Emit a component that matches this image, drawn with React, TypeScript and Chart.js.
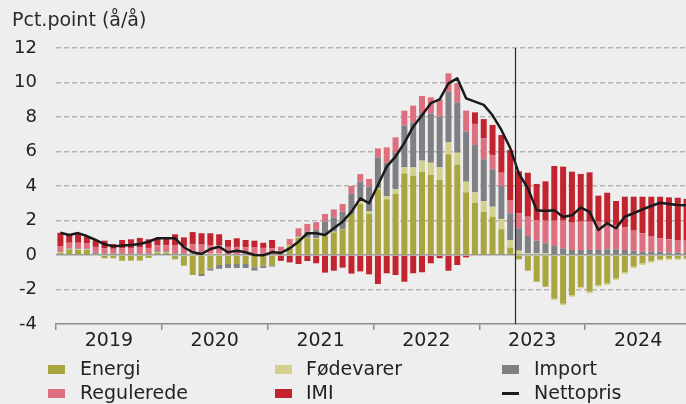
import React, { useEffect, useRef } from 'react';
import { Chart, registerables } from 'chart.js';

Chart.register(...registerables);

// ---------- data ----------
const years = ['2019', '2020', '2021', '2022', '2023', '2024'];
const categories = years.flatMap((y) =>
  ['01', '02', '03', '04', '05', '06', '07', '08', '09', '10', '11', '12'].map((m) => `${y}-${m}`)
);

const energi = [
  0.12, 0.33, 0.29, 0.29, 0.03, -0.19, -0.19, -0.33, -0.33, -0.33, -0.17, 0.13,
  0.13, -0.25, -0.62, -1.16, -1.1, -0.78, -0.58, -0.52, -0.52, -0.52, -0.71, -0.62,
  -0.6, 0.05, 0.53, 1.0, 1.0, 0.93, 1.12, 1.31, 1.49, 2.38, 2.96, 2.38,
  3.81, 3.23, 3.54, 4.73, 4.6, 4.83, 4.64, 4.35, 5.84, 5.24, 3.63, 3.03,
  2.51, 2.22, 1.5, 0.43, -0.25, -0.91, -1.55, -1.84, -2.53, -2.82, -2.34, -1.85,
  -2.12, -1.74, -1.64, -1.35, -1.0, -0.67, -0.48, -0.35, -0.25, -0.21, -0.21, -0.2,
];

const foedevarer = [
  0.03, 0.03, 0.03, 0.03, 0.03, 0.03, 0.03, 0.03, 0.03, 0.03, 0.03, 0.05,
  0.05, 0.05, 0.05, 0.08, 0.1, 0.08, 0.08, 0.05, 0.05, 0.05, 0.05, 0.05,
  0.05, 0.05, 0.05, 0.05, 0.01, 0.05, 0.05, 0.04, 0.01, 0.0, 0.27, 0.14,
  0.05, 0.19, 0.27, 0.35, 0.48, 0.64, 0.71, 0.73, 0.69, 0.69, 0.62, 0.6,
  0.62, 0.58, 0.59, 0.44, 0.25, 0.1, 0.1, 0.1, -0.08, -0.08, -0.08, -0.08,
  -0.1, -0.1, -0.1, -0.1, -0.1, -0.1, -0.1, -0.1, -0.08, -0.08, -0.08, -0.07,
];

const importSeries = [
  0.04, 0.03, 0.04, 0.04, 0.08, 0.06, 0.05, 0.05, 0.05, 0.05, 0.05, 0.05,
  0.05, 0.05, 0.05, 0.05, -0.12, -0.12, -0.22, -0.23, -0.23, -0.23, -0.19, -0.13,
  -0.07, 0.0, 0.0, 0.02, 0.35, 0.48, 0.77, 0.83, 1.02, 1.16, 1.02, 1.45,
  1.8, 1.93, 2.12, 2.42, 2.61, 2.74, 2.86, 2.94, 2.94, 2.92, 2.9, 2.75,
  2.42, 2.17, 1.91, 1.55, 1.3, 1.0, 0.73, 0.58, 0.52, 0.39, 0.29, 0.29,
  0.29, 0.29, 0.33, 0.33, 0.29, 0.25, 0.19, 0.19, 0.19, 0.14, 0.14, 0.14,
];

const regulerede = [
  0.33, 0.32, 0.35, 0.33, 0.33, 0.3, 0.28, 0.3, 0.33, 0.35, 0.33, 0.33,
  0.33, 0.45, 0.42, 0.5, 0.5, 0.5, 0.48, 0.42, 0.42, 0.4, 0.38, 0.36,
  0.34, 0.38, 0.35, 0.48, 0.44, 0.44, 0.44, 0.46, 0.44, 0.46, 0.44, 0.44,
  0.52, 0.89, 0.89, 0.87, 0.97, 1.01, 0.93, 1.0, 1.06, 1.1, 1.22, 1.22,
  1.21, 0.83, 0.77, 0.77, 0.87, 1.12, 1.2, 1.31, 1.47, 1.6, 1.58, 1.64,
  1.64, 1.64, 1.51, 1.41, 1.31, 1.16, 1.07, 0.91, 0.78, 0.77, 0.73, 0.69,
];

const imi = [
  0.77, 0.45, 0.55, 0.37, 0.36, 0.44, 0.28, 0.49, 0.5, 0.56, 0.5, 0.39,
  0.39, 0.65, 0.5, 0.7, 0.66, 0.68, 0.64, 0.4, 0.5, 0.42, 0.4, 0.3,
  0.48, -0.34, -0.43, -0.52, -0.35, -0.48, -1.02, -0.91, -0.73, -1.08, -0.95, -1.12,
  -1.68, -1.06, -1.16, -1.55, -1.06, -1.0, -0.48, -0.19, -0.91, -0.58, -0.14, 0.67,
  1.12, 1.74, 2.19, 2.9, 2.43, 2.55, 2.09, 2.28, 3.17, 3.13, 2.96, 2.77,
  2.86, 1.51, 1.77, 1.39, 1.78, 1.97, 2.12, 2.28, 2.41, 2.43, 2.45, 2.42,
];

const nettopris = [
  1.29, 1.16, 1.27, 1.1, 0.87, 0.62, 0.5, 0.55, 0.58, 0.64, 0.77, 0.97,
  0.97, 0.97, 0.45, 0.16, 0.06, 0.35, 0.48, 0.16, 0.25, 0.16, 0.0, -0.02,
  0.17, 0.12, 0.39, 0.77, 1.26, 1.26, 1.16, 1.55, 1.93, 2.5, 3.28, 3.0,
  4.06, 5.12, 5.7, 6.5, 7.44, 8.1, 8.8, 9.02, 9.95, 10.24, 9.08, 8.89,
  8.7, 8.1, 7.25, 6.2, 4.7, 3.87, 2.6, 2.55, 2.6, 2.2, 2.3, 2.75,
  2.5, 1.45, 1.84, 1.55, 2.22, 2.42, 2.65, 2.84, 3.03, 2.96, 2.9, 2.88,
];

const yMin = -4;
const yMax = 12;
const yStep = 2;
const dividerAfterIndex = 51; // vertical line between Apr 2023 and May 2023

const titleText = 'Pct.point (å/å)';

const COLORS = {
  energi: '#aaa63f',
  foedevarer: '#d4d18f',
  import: '#7f8084',
  regulerede: '#dd6f7f',
  imi: '#c1242f',
  net: '#1a1a1a',
  bg: '#eeeeee',
  text: '#222222',
};

const FONT = '"DejaVu Sans", "Liberation Sans", sans-serif';

const legendItems = [
  { label: 'Energi', color: COLORS.energi, kind: 'box' },
  { label: 'Fødevarer', color: COLORS.foedevarer, kind: 'box' },
  { label: 'Import', color: COLORS.import, kind: 'box' },
  { label: 'Regulerede', color: COLORS.regulerede, kind: 'box' },
  { label: 'IMI', color: COLORS.imi, kind: 'box' },
  { label: 'Nettopris', color: COLORS.net, kind: 'line' },
];

const dividerPlugin = {
  id: 'divider',
  afterDatasetsDraw(chart: any) {
    const xs = chart.scales.x;
    const px = (xs.getPixelForValue(dividerAfterIndex) + xs.getPixelForValue(dividerAfterIndex + 1)) / 2;
    const { top, bottom } = chart.chartArea;
    const ctx = chart.ctx;
    ctx.save();
    ctx.strokeStyle = '#2a2a2a';
    ctx.lineWidth = 1.2;
    ctx.beginPath();
    ctx.moveTo(Math.round(px) + 0.5, top);
    ctx.lineTo(Math.round(px) + 0.5, bottom);
    ctx.stroke();
    ctx.restore();
  },
};

export default function App() {
  const canvasRef = useRef<HTMLCanvasElement | null>(null);

  useEffect(() => {
    if (!canvasRef.current) return;
    const barCommon = {
      type: 'bar' as const,
      stack: 'bars',
      barPercentage: 0.68,
      categoryPercentage: 1.0,
      borderWidth: 0,
      order: 2,
    };
    const chart = new Chart(canvasRef.current, {
      type: 'bar',
      data: {
        labels: categories,
        datasets: [
          { ...barCommon, label: 'Energi', data: energi, backgroundColor: COLORS.energi },
          { ...barCommon, label: 'Fødevarer', data: foedevarer, backgroundColor: COLORS.foedevarer },
          { ...barCommon, label: 'Import', data: importSeries, backgroundColor: COLORS.import },
          { ...barCommon, label: 'Regulerede', data: regulerede, backgroundColor: COLORS.regulerede },
          { ...barCommon, label: 'IMI', data: imi, backgroundColor: COLORS.imi },
          {
            type: 'line' as const,
            label: 'Nettopris',
            data: nettopris,
            stack: 'net',
            borderColor: COLORS.net,
            backgroundColor: COLORS.net,
            borderWidth: 2.5,
            pointRadius: 0,
            tension: 0,
            borderJoinStyle: 'round',
            order: 0,
          } as any,
        ],
      },
      options: {
        responsive: false,
        animation: false,
        devicePixelRatio: 1,
        layout: { padding: { top: 48, left: 0, right: 0, bottom: 0 } },
        plugins: {
          legend: { display: false },
          title: { display: false },
          tooltip: { enabled: false },
        },
        scales: {
          x: {
            stacked: true,
            offset: true,
            grid: {
              offset: true,
              drawOnChartArea: false,
              drawTicks: true,
              tickLength: 6,
              lineWidth: 1.5,
              color: (c: any) => (c.index % 12 === 0 ? '#8c8c8c' : 'rgba(0,0,0,0)'),
            },
            border: { display: true, color: '#8c8c8c', width: 1.5 },
            ticks: {
              autoSkip: false,
              maxRotation: 0,
              minRotation: 0,
              padding: 0,
              labelOffset: 4.41,
              color: COLORS.text,
              font: { family: FONT, size: 19 },
              callback: (_v: any, i: number) => (i % 12 === 5 ? years[Math.floor(i / 12)] : ''),
            },
            afterFit: (scale: any) => {
              scale.height = 80;
            },
          },
          y: {
            stacked: true,
            min: yMin,
            max: yMax,
            grid: {
              drawTicks: false,
              lineWidth: 1.5,
              color: (c: any) => {
                const v = c.tick ? c.tick.value : null;
                if (v === yMin) return 'rgba(0,0,0,0)';
                if (v === 0) return '#9a9a9a';
                return '#b4b4b4';
              },
            },
            border: {
              display: false,
              dash: (c: any) => (c.tick && c.tick.value === 0 ? [] : [5, 3]),
            },
            ticks: {
              stepSize: yStep,
              padding: 19,
              color: COLORS.text,
              font: { family: FONT, size: 18 },
            },
            afterFit: (scale: any) => {
              scale.width = 56;
            },
          },
        },
      },
      plugins: [dividerPlugin],
    });
    return () => chart.destroy();
  }, []);

  const legendLeft = [48, 275, 502];
  const textLeft = [80, 306, 534];
  const rowTop = [357, 381];

  return (
    <div
      style={{
        position: 'fixed',
        left: 0,
        top: 0,
        width: 686,
        height: 404,
        overflow: 'hidden',
        background: COLORS.bg,
        fontFamily: FONT,
        color: COLORS.text,
      }}
    >
      <canvas ref={canvasRef} width={691} height={404} style={{ position: 'absolute', left: 0, top: 0, display: 'block' }} />
      <div style={{ position: 'absolute', left: 12, top: 8, fontSize: 19, lineHeight: '22px', whiteSpace: 'nowrap', color: '#2a2a2a' }}>
        {titleText}
      </div>
      {legendItems.map((it, i) => {
        const col = i % 3;
        const row = Math.floor(i / 3);
        const top = rowTop[row];
        return (
          <React.Fragment key={it.label}>
            {it.kind === 'box' ? (
              <div style={{ position: 'absolute', left: legendLeft[col], top: top + 8, width: 17, height: 9, background: it.color }} />
            ) : (
              <div style={{ position: 'absolute', left: legendLeft[col], top: top + 11, width: 17, height: 2.5, background: it.color }} />
            )}
            <div style={{ position: 'absolute', left: textLeft[col], top: top - 0.5, fontSize: 19, lineHeight: '22px', whiteSpace: 'nowrap' }}>
              {it.label}
            </div>
          </React.Fragment>
        );
      })}
    </div>
  );
}
